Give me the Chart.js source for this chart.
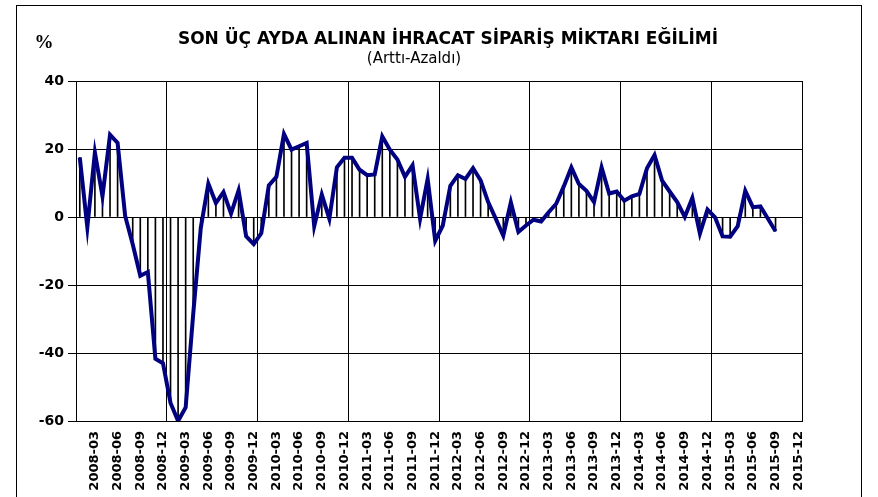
<!DOCTYPE html>
<html lang="tr">
<head>
<meta charset="utf-8">
<title>Son üç ayda alınan ihracat sipariş miktarı eğilimi</title>
<script src="https://cdn.jsdelivr.net/npm/chart.js@4.4.1/dist/chart.umd.min.js"></script>
<style>
  html, body { margin: 0; padding: 0; background: #fff; }
  #wrap { width: 878px; height: 497px; }
</style>
</head>
<body>
<div id="wrap"><canvas id="grafik" width="878" height="497"></canvas></div>
<script>
// Aylık eğilim verisi (%), 2008-01 .. 2015-09
const yillar = ['2008', '2009', '2010', '2011', '2012', '2013', '2014', '2015'];
const aylar = ['01', '02', '03', '04', '05', '06', '07', '08', '09', '10', '11', '12'];

const deger2008 = [17.5, -3.0, 19.0, 6.1, 24.2, 21.8, 0.3, -8.0, -17.3, -16.2, -41.7, -43.0];
const deger2009 = [-54.7, -60.0, -56.0, -28.5, -3.2, 9.8, 4.1, 7.3, 1.0, 7.8, -5.7, -8.0];
const deger2010 = [-4.8, 9.3, 11.8, 24.4, 19.8, 20.8, 21.8, -2.7, 6.6, -0.5, 14.6, 17.4];
const deger2011 = [17.4, 13.9, 12.3, 12.5, 23.7, 19.8, 16.9, 11.8, 15.2, -0.5, 11.2, -7.0];
const deger2012 = [-2.5, 9.2, 12.3, 11.2, 14.4, 10.8, 4.4, -0.5, -5.5, 4.3, -4.4, -2.5];
const deger2013 = [-0.8, -1.3, 1.4, 3.9, 9.0, 14.6, 9.7, 7.7, 4.4, 14.6, 6.9, 7.5];
const deger2014 = [4.8, 6.1, 6.8, 14.3, 18.2, 10.7, 7.5, 4.4, 0.0, 5.6, -4.9, 2.2];
const deger2015 = [-0.1, -5.7, -5.8, -2.7, 7.7, 2.9, 3.1, -0.5, -4.2];

const yTikler = [40, 20, 0, -20, -40, -60];

// Kategoriler: her ay bir etiket, eksende sadece 03-06-09-12 yazılıyor
const kategoriler = [];
yillar.forEach(y => aylar.forEach(a => kategoriler.push(y + '-' + a)));

const degerler = [].concat(deger2008, deger2009, deger2010, deger2011,
                           deger2012, deger2013, deger2014, deger2015);

// Başlıklar ve çerçeve
const baslikEklentisi = {
    id: 'basliklar',
    afterDraw(chart) {
        const ctx = chart.ctx;
        const alan = chart.chartArea;
        ctx.save();
        ctx.strokeStyle = '#000';
        ctx.lineWidth = 1;
        ctx.strokeRect(Math.round(alan.left) + 0.5, Math.round(alan.top) + 0.5,
                       Math.round(alan.right - alan.left), Math.round(alan.bottom - alan.top));
        ctx.strokeRect(16.5, 5.5, 845, 600);

        ctx.fillStyle = '#000';
        ctx.textAlign = 'center';
        ctx.textBaseline = 'alphabetic';
        ctx.font = 'bold 17px "DejaVu Sans"';
        ctx.fillText('SON ÜÇ AYDA ALINAN İHRACAT SİPARİŞ MİKTARI EĞİLİMİ', 448, 44);
        ctx.font = '15px "DejaVu Sans"';
        ctx.fillText('(Arttı-Azaldı)', 414, 63);
        ctx.font = 'bold 19px "Liberation Serif"';
        ctx.fillText('%', 44, 48);
        ctx.restore();
    }
};

new Chart(document.getElementById('grafik'), {
    type: 'bar',
    data: {
        labels: kategoriler,
        datasets: [{
            type: 'line',
            label: 'Eğilim',
            data: degerler,
            borderColor: '#000080',
            borderWidth: 4,
            pointRadius: 0,
            tension: 0,
            fill: false,
            order: 0
        }, {
            type: 'bar',
            label: 'Dikey çizgiler',
            data: degerler,
            backgroundColor: '#000',
            barThickness: 1,
            order: 1
        }]
    },
    options: {
        responsive: false,
        animation: false,
        devicePixelRatio: 1,
        layout: { padding: { top: 81, right: 76, bottom: 0, left: 0 } },
        plugins: {
            legend: { display: false },
            tooltip: { enabled: false },
            title: { display: false }
        },
        scales: {
            x: {
                type: 'category',
                offset: true,
                grid: {
                    offset: true,
                    drawTicks: false,
                    color: ctx => (ctx.index % 12 === 0 ? '#000' : 'rgba(0,0,0,0)'),
                    lineWidth: 1
                },
                border: { display: true, color: '#000' },
                ticks: {
                    autoSkip: false,
                    minRotation: 90,
                    maxRotation: 90,
                    padding: 10,
                    color: '#000',
                    font: { family: '"DejaVu Sans"', size: 13, weight: 'bold' },
                    callback: function (val, i) {
                        const lbl = kategoriler[i];
                        return (i % 3 === 2) ? lbl : '';
                    }
                },
                afterFit: s => { s.height = 76; }
            },
            y: {
                min: -60,
                max: 40,
                afterBuildTicks: s => { s.ticks = yTikler.map(v => ({ value: v })); },
                grid: { color: '#000', lineWidth: 1, tickLength: 8 },
                border: { display: true, color: '#000' },
                ticks: {
                    padding: 4,
                    color: '#000',
                    font: { family: '"DejaVu Sans"', size: 14, weight: 'bold' }
                },
                afterFit: s => { s.width = 76; }
            }
        }
    },
    plugins: [baslikEklentisi]
});
</script>
</body>
</html>
